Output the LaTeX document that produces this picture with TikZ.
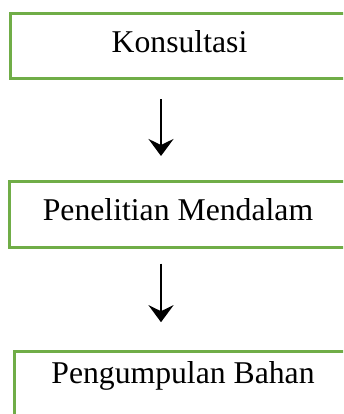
\documentclass[tikz,border=0pt]{standalone}
\usepackage{fontspec}
\setmainfont{Liberation Serif}
\usetikzlibrary{arrows.meta}
\definecolor{boxgreen}{HTML}{70AD47}
\tikzset{
  stepbox/.style={draw=boxgreen, line width=3pt, rectangle, inner sep=0pt, anchor=base,
    font=\fontsize{31.7}{38}\selectfont, text=black},
  flowarrow/.style={line width=2.8pt, -{Stealth[length=17pt,width=25pt,inset=6pt]}}
}
\begin{document}
\begin{tikzpicture}[x=1pt,y=-1pt]
  \useasboundingbox (0,0) rectangle (343,414);
  \clip (0,0) rectangle (343,414);
  \node[stepbox, minimum width=338pt, text height=39.5pt, text depth=26pt] (b1) at (179.5,53) {Konsultasi};
  \node[stepbox, minimum width=338pt, text height=38.5pt, text depth=27pt] (b2) at (178,220) {Penelitian Mendalam};
  \node[stepbox, minimum width=338pt, text height=31.3pt, text depth=40pt] (b3) at (183,383) {Pengumpulan Bahan};
  \coordinate (ax) at (161,0);
  \draw[flowarrow, shorten <=19pt, shorten >=24pt] (b1.south -| ax) -- (b2.north -| ax);
  \draw[flowarrow, shorten <=15pt, shorten >=28pt] (b2.south -| ax) -- (b3.north -| ax);
\end{tikzpicture}
\end{document}
